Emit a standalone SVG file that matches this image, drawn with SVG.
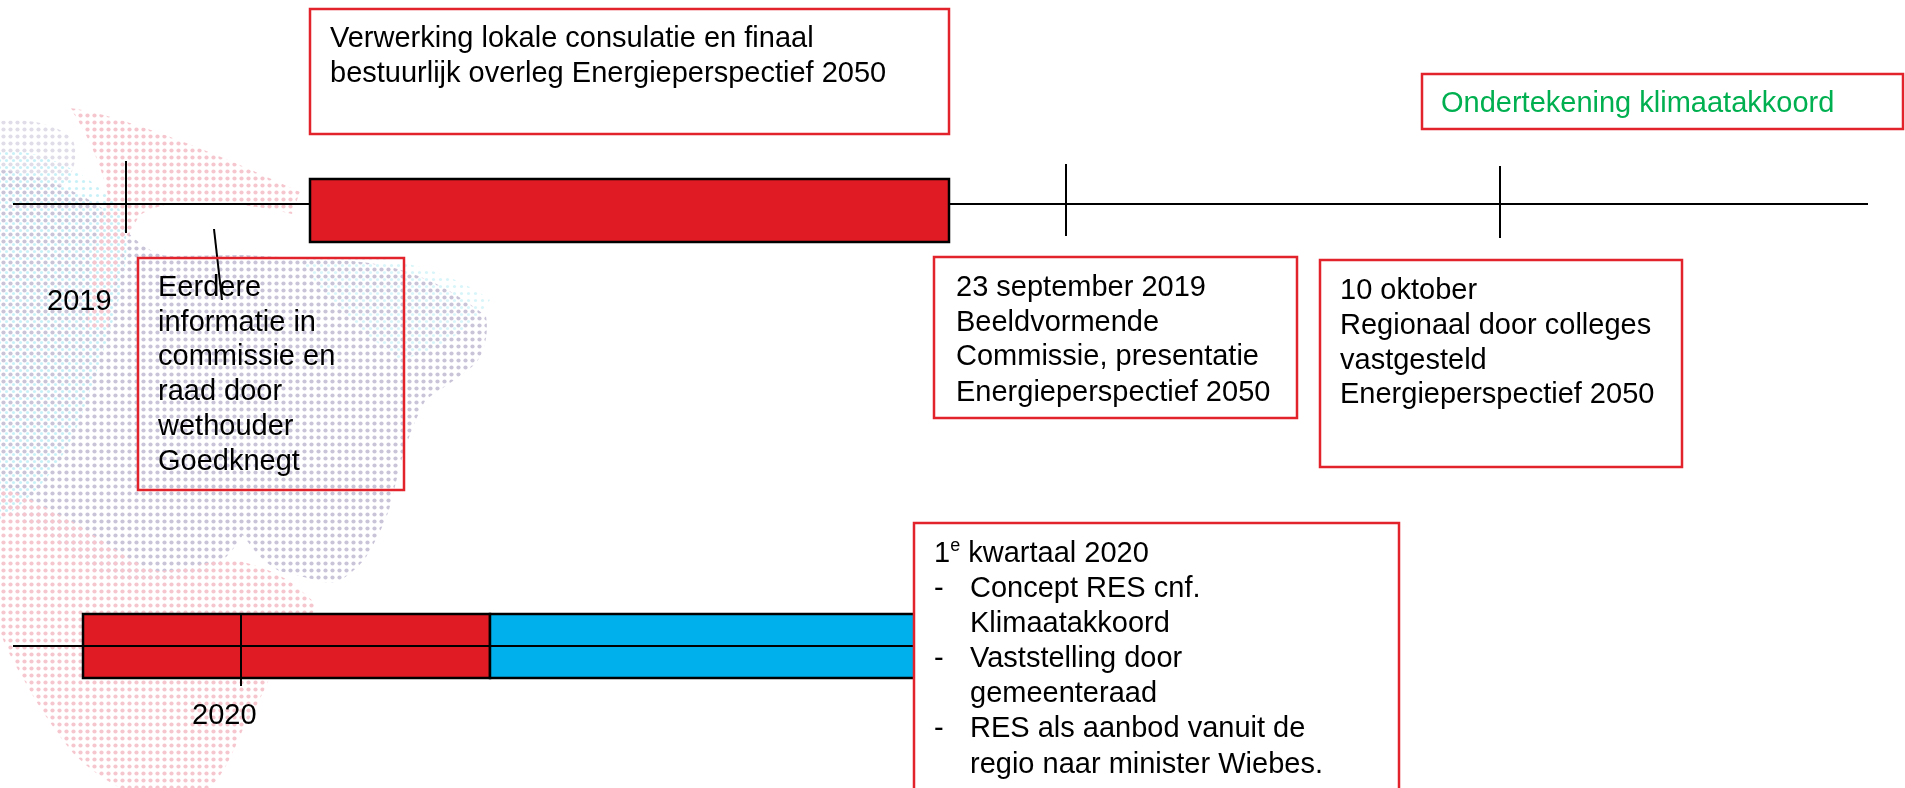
<svg xmlns="http://www.w3.org/2000/svg" width="1905" height="788" viewBox="0 0 1905 788">
<defs>
<pattern id="dotL" width="7" height="7" patternUnits="userSpaceOnUse"><circle cx="3.5" cy="3.5" r="2.1" fill="#b9b1cc"/></pattern>
<pattern id="dotP" width="7" height="7" patternUnits="userSpaceOnUse"><circle cx="3.5" cy="3.5" r="2.1" fill="#f2b3bd"/></pattern>
<pattern id="dotC" width="7" height="7" patternUnits="userSpaceOnUse" x="3" y="3"><circle cx="3.5" cy="3.5" r="1.6" fill="#b6ecf5"/></pattern>
</defs>
<style>
.box{fill:#fff;stroke:#e3232b;stroke-width:2.5}
.boxT{fill:none;stroke:#e3232b;stroke-width:2.5}
.t{font-family:"Liberation Sans",Arial,sans-serif;font-size:29px;fill:#000}
.ln{stroke:#000;stroke-width:2;fill:none}
.bar{stroke:#000;stroke-width:2.5}
</style>
<rect width="1905" height="788" fill="#fff"/>
<g id="background" opacity="0.75">
<path fill="url(#dotL)" d="M0,170 C30,172 80,190 109,213 C130,235 150,258 175,256 L243,255 L352,261 C400,265 440,280 486,316 C490,340 480,360 474,365 C450,385 430,395 425,401 C410,430 405,450 401,462 L389,510 C380,535 370,550 365,559 C350,575 340,583 328,583 L279,571 C260,560 250,545 243,535 C230,555 220,565 207,571 L146,583 C120,580 105,575 97,571 C70,555 60,545 49,535 C30,525 10,515 0,510 Z"/>
<path fill="url(#dotL)" opacity="0.6" d="M0,121 C30,118 60,125 73,140 C80,160 70,180 60,190 L0,185 Z"/>
<path fill="url(#dotC)" d="M0,150 C40,150 90,170 120,210 C140,260 110,330 80,420 C60,470 30,500 0,520 Z"/>
<path fill="url(#dotC)" opacity="0.7" d="M300,255 C380,250 450,270 490,300 C470,330 440,350 400,360 C360,330 320,300 300,255 Z"/>
<path fill="url(#dotP)" d="M0,486 C25,495 50,510 73,522 C110,545 135,565 158,571 C190,570 210,560 231,559 C260,565 280,575 292,583 C305,595 315,600 316,608 C300,630 290,645 279,656 C265,690 255,710 243,729 C230,760 220,780 207,790 L146,800 C110,785 90,770 73,753 C50,725 35,700 24,680 C12,660 5,645 0,632 Z"/>
<path fill="url(#dotP)" d="M70,108 C120,115 210,150 300,192 L292,214 C230,200 170,195 140,215 C120,245 112,290 108,330 L88,330 C88,280 95,230 108,195 C100,160 85,130 70,108 Z"/>
</g>
<g id="connectors">
<line class="ln" x1="13" y1="204" x2="1868" y2="204"/>
<line class="ln" x1="126" y1="161" x2="126" y2="233"/>
<line class="ln" x1="1066" y1="164" x2="1066" y2="236"/>
<line class="ln" x1="1500" y1="166" x2="1500" y2="238"/>
<line class="ln" x1="214" y1="229" x2="222" y2="300"/>
<line class="ln" x1="13" y1="646" x2="83" y2="646"/>
</g>
<g id="bar-2019">
<rect class="bar" x="310" y="179" width="639" height="63" fill="#e01b23"/>
</g>
<g id="bar-2020">
<rect class="bar" x="83" y="614" width="407" height="64" fill="#e01b23"/>
<rect class="bar" x="490" y="614" width="440" height="64" fill="#00b0ec"/>
<line class="ln" x1="83" y1="646" x2="930" y2="646"/>
<line class="ln" x1="241" y1="614" x2="241" y2="686"/>
</g>
<g id="label-2019"><text class="t" x="47" y="310">2019</text></g>
<g id="label-2020"><text class="t" x="192" y="724">2020</text></g>
<g id="box-verwerking">
<rect class="boxT" x="310" y="9" width="639" height="125"/>
<text class="t" x="330" y="47">Verwerking lokale consulatie en finaal</text>
<text class="t" x="330" y="82">bestuurlijk overleg Energieperspectief 2050</text>
</g>
<g id="box-ondertekening">
<rect class="boxT" x="1422" y="74" width="481" height="55"/>
<text class="t" x="1441" y="112" fill="#00b050" style="fill:#00b050">Ondertekening klimaatakkoord</text>
</g>
<g id="box-eerdere">
<rect class="boxT" x="138" y="258" width="266" height="232"/>
<text class="t" x="158" y="296">Eerdere</text>
<text class="t" x="158" y="331">informatie in</text>
<text class="t" x="158" y="365">commissie en</text>
<text class="t" x="158" y="400">raad door</text>
<text class="t" x="158" y="435">wethouder</text>
<text class="t" x="158" y="470">Goedknegt</text>
</g>
<g id="box-september">
<rect class="boxT" x="934" y="257" width="363" height="161"/>
<text class="t" x="956" y="296">23 september 2019</text>
<text class="t" x="956" y="331">Beeldvormende</text>
<text class="t" x="956" y="365">Commissie, presentatie</text>
<text class="t" x="956" y="401">Energieperspectief 2050</text>
</g>
<g id="box-oktober">
<rect class="boxT" x="1320" y="260" width="362" height="207"/>
<text class="t" x="1340" y="299">10 oktober</text>
<text class="t" x="1340" y="334">Regionaal door colleges</text>
<text class="t" x="1340" y="369">vastgesteld</text>
<text class="t" x="1340" y="403">Energieperspectief 2050</text>
</g>
<g id="box-kwartaal">
<rect class="box" x="914" y="523" width="485" height="290"/>
<text class="t" x="934" y="562">1<tspan font-size="18" dy="-11">e</tspan><tspan dy="11"> kwartaal 2020</tspan></text>
<text class="t" x="934" y="597">-</text><text class="t" x="970" y="597">Concept RES cnf.</text>
<text class="t" x="970" y="632">Klimaatakkoord</text>
<text class="t" x="934" y="667">-</text><text class="t" x="970" y="667">Vaststelling door</text>
<text class="t" x="970" y="702">gemeenteraad</text>
<text class="t" x="934" y="737">-</text><text class="t" x="970" y="737">RES als aanbod vanuit de</text>
<text class="t" x="970" y="773">regio naar minister Wiebes.</text>
</g>
</svg>
